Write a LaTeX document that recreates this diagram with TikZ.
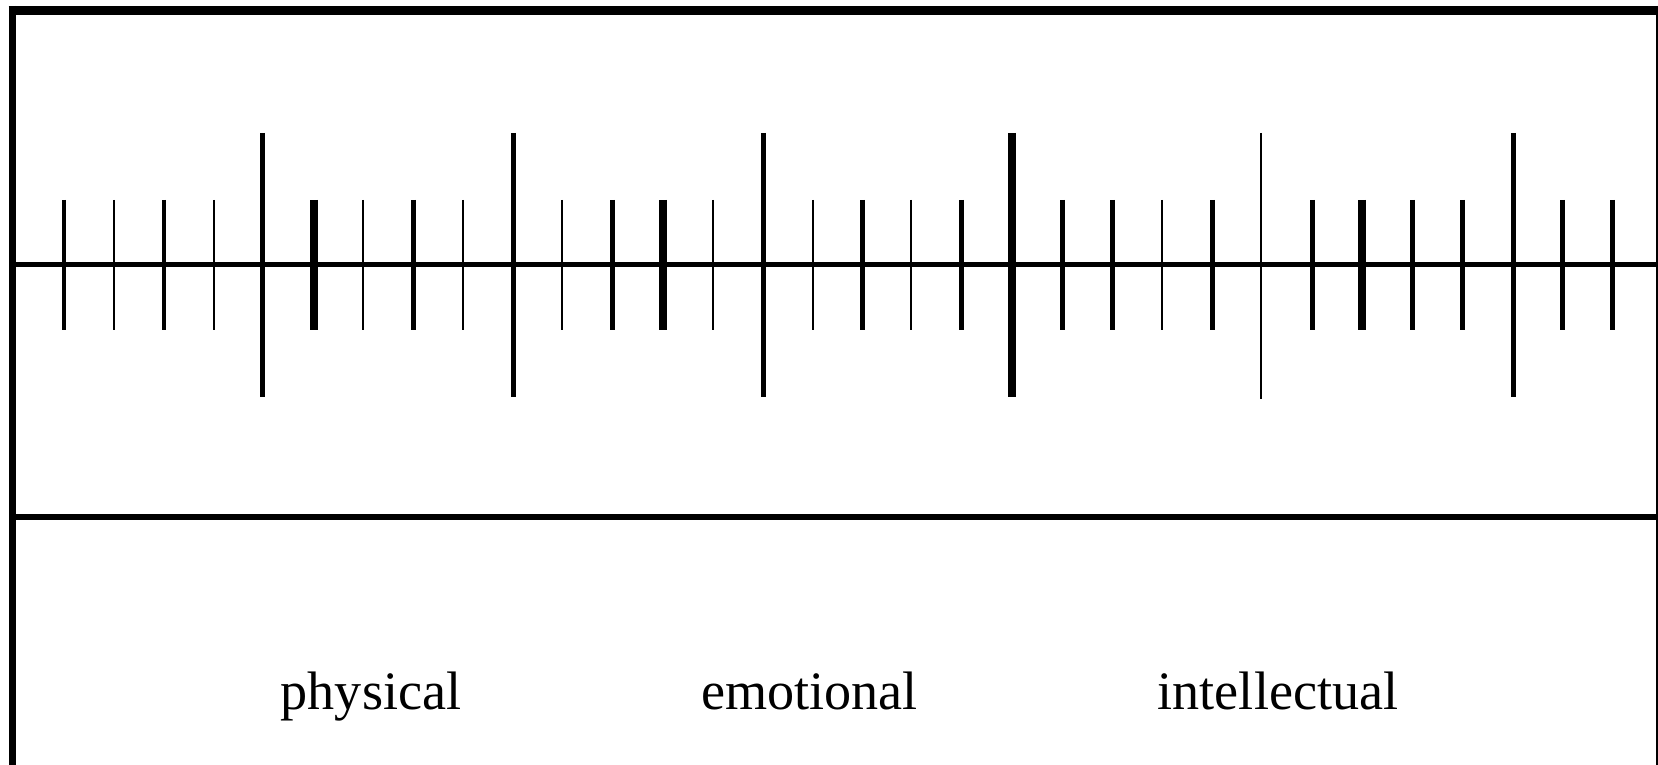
\documentclass[tikz,border=0pt]{standalone}
\usepackage{fontspec}
\setmainfont{Liberation Serif}
\usepackage{tikz}

\begin{document}
\begin{tikzpicture}[
  x=0.01cm, y=-0.01cm,
  tkhair/.style={line width=0.48pt},
  tkthin/.style={line width=0.74pt},
  tkmed/.style={line width=1.42pt},
  tkbold/.style={line width=2.13pt},
  lbl/.style={anchor=base, inner sep=0pt, font=\fontsize{15.4pt}{18pt}\selectfont}
]
  \useasboundingbox (0,0) rectangle (1658,765);

  % frame
  \draw[line width=2.56pt] (8.5,10.5) -- (1658,10.5);
  \draw[line width=2.13pt] (12.5,6) -- (12.5,765);
  \draw[line width=0.71pt] (1656.8,6) -- (1656.8,765);
  \draw[line width=1.56pt] (12.5,517) -- (1656.8,517);

  % time axis
  \draw[line width=1.42pt] (12.5,264.5) -- (1656.8,264.5);

  % ticks 0-9
  \draw[tkmed] (64,200) -- (64,330);   \draw[tkthin] (114,200) -- (114,330);
  \draw[tkmed] (164,200) -- (164,330); \draw[tkthin] (214,200) -- (214,330);
  \draw[tkmed] (262,133) -- (262,397);
  \draw[tkbold] (314,200) -- (314,330); \draw[tkthin] (363,200) -- (363,330);
  \draw[tkmed] (413,200) -- (413,330);  \draw[tkthin] (463,200) -- (463,330);
  \draw[tkmed] (513,133) -- (513,397);

  % ticks 10-19
  \draw[tkthin] (562,200) -- (562,330); \draw[tkmed] (612,200) -- (612,330);
  \draw[tkbold] (663,200) -- (663,330); \draw[tkthin] (713,200) -- (713,330);
  \draw[tkmed] (763,133) -- (763,397);
  \draw[tkthin] (813,200) -- (813,330); \draw[tkmed] (862,200) -- (862,330);
  \draw[tkthin] (911,200) -- (911,330); \draw[tkmed] (961,200) -- (961,330);
  \draw[tkbold] (1012,133) -- (1012,397);

  % ticks 20-31
  \draw[tkmed] (1062,200) -- (1062,330); \draw[tkmed] (1112,200) -- (1112,330);
  \draw[tkthin] (1162,200) -- (1162,330); \draw[tkmed] (1212,200) -- (1212,330);
  \draw[tkhair] (1261,133) -- (1261,399);
  \draw[tkmed] (1312,200) -- (1312,330); \draw[tkbold] (1362,200) -- (1362,330);
  \draw[tkmed] (1412,200) -- (1412,330); \draw[tkmed] (1462,200) -- (1462,330);
  \draw[tkmed] (1513,133) -- (1513,397);
  \draw[tkmed] (1562,200) -- (1562,330); \draw[tkmed] (1612,200) -- (1612,330);

  % legend
  \node[lbl] (physical) at (371,710) {physical};
  \node[lbl] (emotional) at (809.5,710) {emotional};
  \node[lbl] (intellectual) at (1278,710) {intellectual};
\end{tikzpicture}
\end{document}
